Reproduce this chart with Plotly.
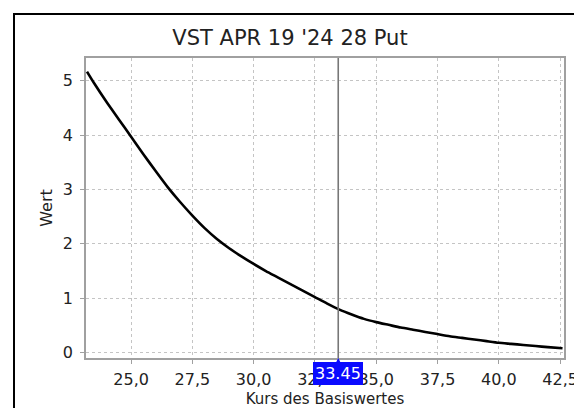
import plotly.graph_objects as go

# ---- data ----
spot_prices = [23.2, 23.5, 24.0, 24.5, 25.0, 25.5, 26.0, 26.5, 27.0, 27.5,
               28.0, 28.5, 29.0, 29.5, 30.0, 30.5, 31.0, 31.5, 32.0, 32.5,
               33.0, 33.5, 34.0, 34.5, 35.0, 35.5, 36.0, 36.5, 37.0, 37.5,
               38.0, 38.5, 39.0, 39.5, 40.0, 40.5, 41.0, 41.5, 42.0, 42.6]
option_values = [5.17, 4.95, 4.61, 4.29, 3.97, 3.65, 3.34, 3.04, 2.77, 2.52,
                 2.29, 2.09, 1.92, 1.77, 1.63, 1.50, 1.38, 1.26, 1.14, 1.02,
                 0.90, 0.79, 0.70, 0.62, 0.56, 0.51, 0.46, 0.42, 0.38, 0.34,
                 0.30, 0.27, 0.24, 0.21, 0.18, 0.16, 0.14, 0.12, 0.10, 0.08]
current_price = 33.45
x_ticks = [25.0, 27.5, 30.0, 32.5, 35.0, 37.5, 40.0, 42.5]
y_ticks = [0, 1, 2, 3, 4, 5]

title_text = "VST APR 19 '24 28 Put"
x_title = "Kurs des Basiswertes"
y_title = "Wert"

FONT = "DejaVu Sans"
TXT = "#222222"
GRID = "#c4c4c4"
AXIS = "#a0a0a0"

# The page body has an 8px default margin, so the figure is 8px smaller
W, H = 574, 400
L, R, T, B = 78, 18, 50, 50
PW, PH = W - L - R, H - T - B

fig = go.Figure()
fig.add_trace(go.Scatter(
    x=spot_prices, y=option_values, mode="lines",
    line=dict(color="#000000", width=2.6, shape="spline", smoothing=0.6),
    hoverinfo="skip", showlegend=False,
))

fig.add_vline(x=current_price, line=dict(color="#777777", width=1.6), layer="above")

fig.add_annotation(
    x=current_price, y=0, xref="x", yref="paper",
    text=str(current_price), showarrow=True,
    ax=0, ay=15, arrowhead=2, arrowsize=1, arrowwidth=2, arrowcolor="#0a0aff",
    standoff=0, startstandoff=0,
    bgcolor="#0a0aff", bordercolor="#0a0aff", borderpad=1,
    font=dict(family=FONT, size=16, color="#ffffff"),
)

# outer black frame (left/top/right edges visible, bottom beyond the view)
fig.add_shape(type="rect", xref="paper", yref="paper",
              x0=(6 - L) / PW, x1=(570 - L) / PW,
              y0=-0.3, y1=(H - B - 6) / PH,
              line=dict(color="#000000", width=2), fillcolor="rgba(0,0,0,0)",
              layer="below")

fig.update_layout(
    width=W, height=H,
    margin=dict(l=L, r=R, t=T, b=B),
    paper_bgcolor="#ffffff", plot_bgcolor="#ffffff",
    separators=", ",
    font=dict(family=FONT, size=15, color=TXT),
    title=dict(text=title_text, x=282 / W, xref="container", xanchor="center",
               y=1 - 30 / H, yref="container", yanchor="middle",
               font=dict(family=FONT, size=21, color=TXT)),
    xaxis=dict(
        range=[23.16, 42.66], tickvals=x_ticks, tickformat=".1f",
        showgrid=True, gridcolor=GRID, griddash="3px,3px", gridwidth=1,
        showline=True, linecolor=AXIS, linewidth=1.5, mirror=True,
        ticks="outside", ticklen=4, tickcolor=AXIS, ticklabelstandoff=2,
        tickfont=dict(family=FONT, size=16, color=TXT),
        zeroline=False,
        title=dict(text=x_title, standoff=10, font=dict(family=FONT, size=15, color=TXT)),
        automargin=False,
    ),
    yaxis=dict(
        range=[-0.1, 5.42], tickvals=y_ticks,
        showgrid=True, gridcolor=GRID, griddash="3px,3px", gridwidth=1,
        showline=True, linecolor=AXIS, linewidth=1.5, mirror=True,
        ticks="outside", ticklen=4, tickcolor=AXIS, ticklabelstandoff=4,
        tickfont=dict(family=FONT, size=16, color=TXT),
        zeroline=False,
        title=dict(text=y_title, standoff=6, font=dict(family=FONT, size=16, color=TXT)),
        automargin=False,
    ),
)

fig.write_html("out.html")
